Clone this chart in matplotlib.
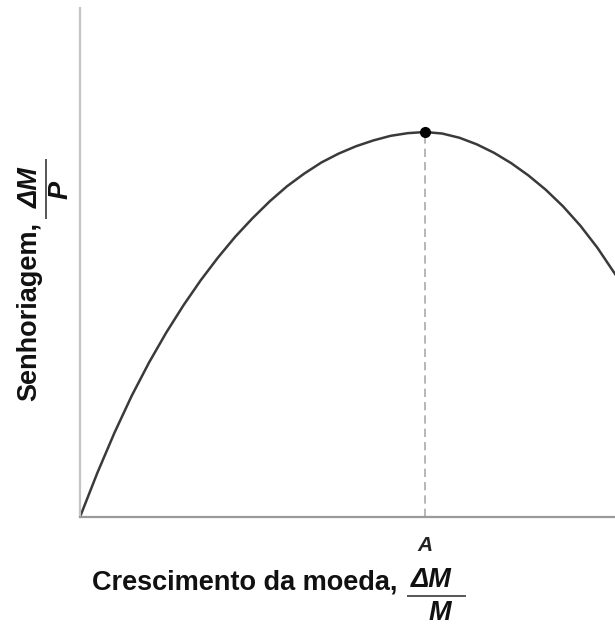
import matplotlib.pyplot as plt

# curve (x in units of A, y in units of the peak)
growth = [0.0, 0.05, 0.10, 0.15, 0.20, 0.25, 0.30, 0.35, 0.40, 0.45, 0.50,
          0.55, 0.60, 0.65, 0.70, 0.75, 0.80, 0.85, 0.90, 0.95, 1.00,
          1.05, 1.10, 1.15, 1.20, 1.25, 1.30, 1.35, 1.40, 1.45, 1.50, 1.551]
seign = [0.0, 0.114, 0.219, 0.315, 0.401, 0.479, 0.550, 0.615, 0.674, 0.728, 0.776,
         0.820, 0.859, 0.892, 0.921, 0.944, 0.963, 0.978, 0.990, 0.997, 1.0,
         0.996, 0.985, 0.968, 0.946, 0.919, 0.887, 0.850, 0.807, 0.757, 0.699, 0.631]
peak_x, peak_y = 1.0, 1.0
tick_pos = [1.0]
tick_lab = ['A']

W, H = 615, 625
fig = plt.figure(figsize=(W / 100, H / 100), dpi=100)
ax = fig.add_axes([80 / W, 1 - 517 / H, 535 / W, 509 / H])

ax.plot(growth, seign, color='#3a3a3a', lw=1.8, solid_joinstyle='round')
ax.plot([peak_x, peak_x], [0, peak_y], color='#aaaaaa', lw=1.2, ls=(0, (5, 3)))
ax.plot([peak_x], [peak_y], 'o', color='black', ms=7)

ax.set_xlim(0, 535 / 345)
ax.set_ylim(0, 509 / 385)
ax.spines['top'].set_visible(False)
ax.spines['right'].set_visible(False)
ax.spines['left'].set_color('#c4c4c4')
ax.spines['left'].set_linewidth(1.6)
ax.spines['bottom'].set_color('#9a9a9a')
ax.spines['bottom'].set_linewidth(1.6)
ax.set_yticks([])
ax.set_xticks(tick_pos)
ax.set_xticklabels(tick_lab, fontsize=15, style='italic', weight='bold',
                   family='Liberation Sans', color='#222222')
ax.tick_params(axis='x', length=0, pad=14)

font = dict(family='Liberation Sans', weight='bold', fontsize=19.5, color='#111111')


def fx(px):
    return px / W


def fy(py):
    return 1 - py / H


# x label with fraction
fig.text(fx(92), fy(582), 'Crescimento da moeda,', ha='left', va='center', **font)
fig.text(fx(431), fy(580), '\u0394M', ha='center', va='center', style='italic', **font)
fig.add_artist(plt.Line2D([fx(408), fx(465)], [fy(596), fy(596)], color='#555555', lw=1.4))
fig.text(fx(440), fy(613), 'M', ha='center', va='center', style='italic', **font)

# y label with fraction
fig.text(fx(29), fy(311), 'Senhoriagem,', ha='center', va='center', rotation=90, **font)
fig.text(fx(31), fy(188), '\u0394M', ha='center', va='center', rotation=90, style='italic', **font)
fig.add_artist(plt.Line2D([fx(46), fx(46)], [fy(160), fy(218)], color='#555555', lw=1.4))
fig.text(fx(61), fy(190), 'P', ha='center', va='center', rotation=90, style='italic', **font)

fig.savefig('out.png', dpi=100)
